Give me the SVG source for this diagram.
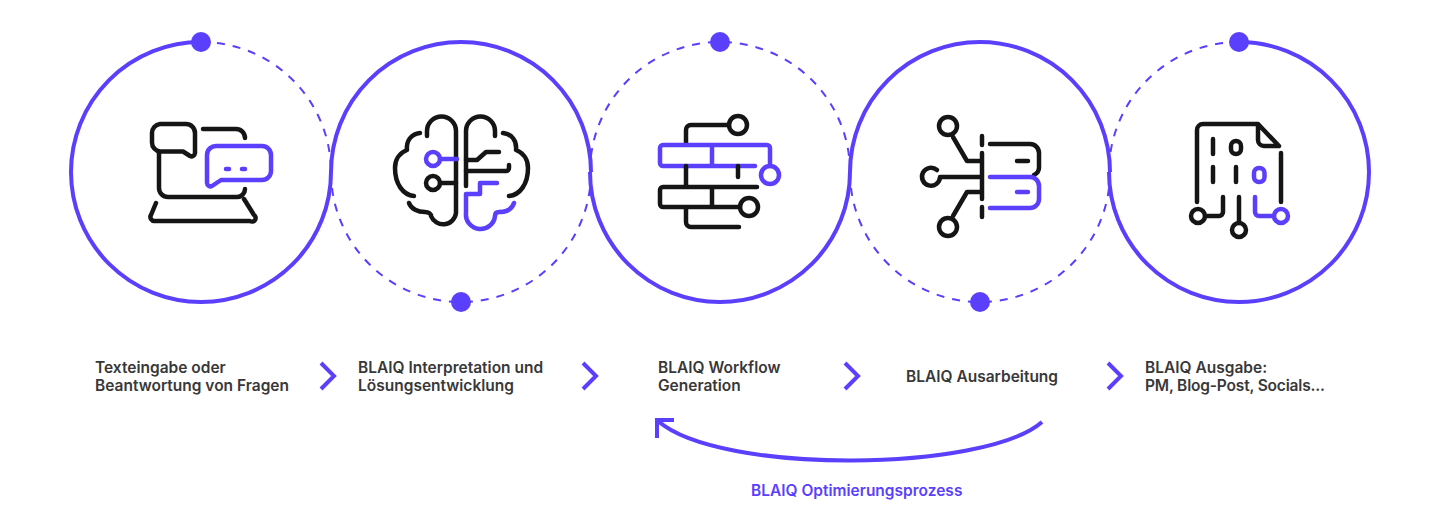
<svg xmlns="http://www.w3.org/2000/svg" width="1440" height="530" viewBox="0 0 1440 530">
<style>
.r{fill:none;stroke:#5a3ffc;stroke-width:4}
.d{fill:none;stroke:#5a3ffc;stroke-width:2;stroke-dasharray:8 8}
.dot{fill:#5a3ffc}
.k{fill:none;stroke:#151515;stroke-width:4.500;stroke-linecap:round;stroke-linejoin:round}
.p{fill:none;stroke:#5a3ffc;stroke-width:4.500;stroke-linecap:round;stroke-linejoin:round}
.t{font-family:Inter,"Liberation Sans",sans-serif;font-size:15.500px;font-weight:600;fill:#383838}
.c{fill:none;stroke:#5a3ffc;stroke-width:4}
</style>
<rect width="1440" height="530" fill="#ffffff"/>
<g id="rings">
<path class="r" d="M201 42A130 130 0 1 0 331 172"/>
<path class="d" d="M201 42A130 130 0 0 1 331 172"/>
<path class="r" d="M331 172A130 130 0 0 1 591 172"/>
<path class="d" d="M331 172A130 130 0 0 0 591 172"/>
<path class="r" d="M590 172A130 130 0 0 0 850 172"/>
<path class="d" d="M590 172A130 130 0 0 1 850 172"/>
<path class="r" d="M850 172A130 130 0 0 1 1110 172"/>
<path class="d" d="M850 172A130 130 0 0 0 1110 172"/>
<path class="r" d="M1239 42A130 130 0 1 1 1109 172"/>
<path class="d" d="M1239 42A130 130 0 0 0 1109 172"/>
<circle class="dot" cx="201" cy="42" r="10"/>
<circle class="dot" cx="461" cy="302" r="10"/>
<circle class="dot" cx="720" cy="42" r="10"/>
<circle class="dot" cx="980" cy="302" r="10"/>
<circle class="dot" cx="1239" cy="42" r="10"/>
</g>
<g id="node-1">
<path class="k" d="M160 124H186a9 9 0 0 1 9 9V153a3.500 3.500 0 0 1-5 3L183 151.500H160a9 9 0 0 1-8-9V133a9 9 0 0 1 8-9z"/>
<path class="k" d="M159 152V188a9 9 0 0 0 9 9H237a8 8 0 0 0 8-8"/>
<path class="k" d="M203 129H236a9 9 0 0 1 9 9"/>
<path class="k" d="M156 203L151 215a4 4 0 0 0 4 6H250a3.500 3.500 0 0 0 4-6L244 199"/>
<path class="p" d="M217 146H262a9 9 0 0 1 9 9V171a9 9 0 0 1-9 9H221L212 186a3.500 3.500 0 0 1-5-3V155a9 9 0 0 1 10-9zM226 169H229M242 169H245"/>
<text class="t" x="95" y="373">Texteingabe oder</text>
<text class="t" x="95" y="391">Beantwortung von Fragen</text>
</g>
<g id="node-2">
<path class="k" d="M409 203C411 209 418 212 425 212C429 212 431 214 431 216A13 13 0 0 0 456 213V131A14.500 14.500 0 0 0 427 131V136"/>
<path class="k" d="M420 133C411 134 406 141 407 150C399 153 395 160 395 168C395 184 403 195 414 196"/>
<path class="k" d="M466 186V131A14.500 14.500 0 0 1 495 131V136"/>
<path class="k" d="M503 133C512 134 517 141 516 150C524 153 528 160 528 168C528 184 520 195 509 196"/>
<path class="k" d="M466 160H477L486 152H499M466 171H506a3 3 0 0 0 3-3V165"/>
<circle class="k" cx="433" cy="183" r="7"/>
<path class="k" d="M440 183H456"/>
<circle class="p" cx="433" cy="159" r="7"/>
<path class="p" d="M440 159H457"/>
<path class="p" d="M497 183H480V194H466V213A14.500 14.500 0 0 0 495 216C495 213 497 212 499 212C506 212 512 209 514 203"/>
<text class="t" x="358" y="373">BLAIQ Interpretation und</text>
<text class="t" x="358" y="391">Lösungsentwicklung</text>
</g>
<g id="node-3">
<circle class="k" cx="738" cy="125" r="9"/>
<path class="k" d="M686 143V130a5 5 0 0 1 5-5H729"/>
<path class="p" d="M755 166H663a3 3 0 0 1-3-3V148a3 3 0 0 1 3-3H767a3 3 0 0 1 3 3V166M712 145V166"/>
<circle class="p" cx="770" cy="175" r="9"/>
<path class="k" d="M738 166V177M686 166V187M757 187H663a3 3 0 0 0-3 3V204a3 3 0 0 0 3 3H740M712 187V207M686 207V222a5 5 0 0 0 5 5H739"/>
<circle class="k" cx="749" cy="207" r="9"/>
<text class="t" x="658" y="373">BLAIQ Workflow</text>
<text class="t" x="658" y="391">Generation</text>
</g>
<g id="node-4">
<circle class="k" cx="948" cy="126" r="9"/>
<circle class="k" cx="948" cy="227" r="9"/>
<path class="k" d="M953 137L967 161H981M953 216L967 192H981M937 170A9 9 0 1 0 940 177H981M982 136V145M982 153V199M982 207V217"/>
<path class="k" d="M990 144H1030a9 9 0 0 1 9 9V166a9 9 0 0 1-5 9M1017 161H1028"/>
<path class="p" d="M990 177H1030a9 9 0 0 1 9 9V199a9 9 0 0 1-9 9H990M1017 192H1028"/>
<text class="t" x="906" y="382">BLAIQ Ausarbeitung</text>
</g>
<g id="node-5">
<path class="k" d="M1197 202V130a6 6 0 0 1 6-6H1258L1279 146H1264a6 6 0 0 1-6-6V124M1281 153V202M1213 139V154M1213 167V182M1236 167V182M1205 216H1219a4 4 0 0 0 4-4V197M1239 197V223"/>
<rect class="k" x="1231" y="141" width="10" height="13" rx="5"/>
<circle class="k" cx="1198" cy="216" r="7"/>
<circle class="k" cx="1239" cy="230" r="7"/>
<rect class="p" x="1254" y="168" width="10.500" height="14" rx="5"/>
<path class="p" d="M1255 197V212a4 4 0 0 0 4 4H1274"/>
<circle class="p" cx="1281" cy="216" r="7"/>
<text class="t" x="1145" y="373">BLAIQ Ausgabe:</text>
<text class="t" x="1145" y="391" textLength="180" lengthAdjust="spacing">PM, Blog-Post, Socials...</text>
</g>
<g id="connectors">
<path class="c" d="M321 363L334 376L321 389"/>
<path class="c" d="M583 363L596 376L583 389"/>
<path class="c" d="M845 363L858 376L845 389"/>
<path class="c" d="M1108 363L1121 376L1108 389"/>
<path class="c" d="M1042 422C985 472 720 475 658 421"/>
<path class="c" d="M657 438V420H674"/>
<text class="t" x="751" y="496" style="fill:#5a3ffc">BLAIQ Optimierungsprozess</text>
</g>
</svg>
